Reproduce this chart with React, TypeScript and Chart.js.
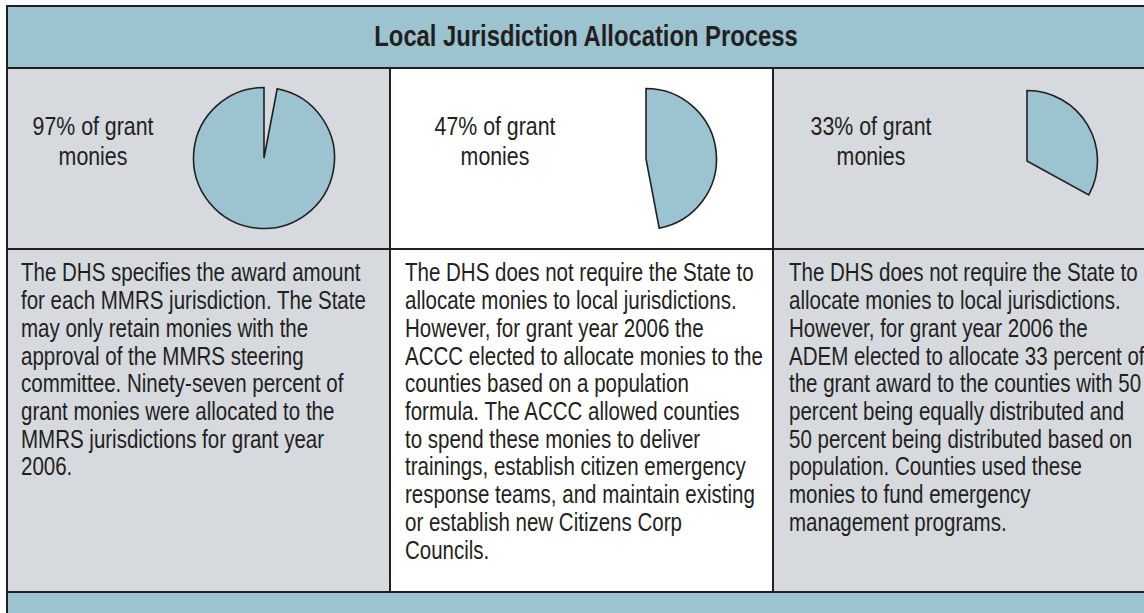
import React, { useEffect, useRef } from "react";
import { Chart, registerables } from "chart.js";

Chart.register(...registerables);

// ---------- data ----------
const title = "Local Jurisdiction Allocation Process";
const sliceNames = ["Allocated to local jurisdictions", "Not allocated"];
const allocatedShare = [97, 47, 33];
const retainedShare = [3, 53, 67];
const pieLabelLines = [
  ["97% of grant", "monies"],
  ["47% of grant", "monies"],
  ["33% of grant", "monies"],
];
const col1Lines = [
  "The DHS specifies the award amount",
  "for each MMRS jurisdiction. The State",
  "may only retain monies with the",
  "approval of the MMRS steering",
  "committee. Ninety-seven percent of",
  "grant monies were allocated to the",
  "MMRS jurisdictions for grant year",
  "2006.",
];
const col2Lines = [
  "The DHS does not require the State to",
  "allocate monies to local jurisdictions.",
  "However, for grant year 2006 the",
  "ACCC elected to allocate monies to the",
  "counties based on a population",
  "formula. The ACCC allowed counties",
  "to spend these monies to deliver",
  "trainings, establish citizen emergency",
  "response teams, and maintain existing",
  "or establish new Citizens Corp",
  "Councils.",
];
const col3Lines = [
  "The DHS does not require the State to",
  "allocate monies to local jurisdictions.",
  "However, for grant year 2006 the",
  "ADEM elected to allocate 33 percent of",
  "the grant award to the counties with 50",
  "percent being equally distributed and",
  "50 percent being distributed based on",
  "population. Counties used these",
  "monies to fund emergency",
  "management programs.",
];
const bodyColumns = [col1Lines, col2Lines, col3Lines];

// ---------- style / layout ----------
const TEAL = "#9bc3d0";
const GRAY = "#d6d9de";
const INK = "#231f20";
const FONT = '"Liberation Sans", Arial, sans-serif';
const NARROW = 0.82; // emulate a narrow face by horizontal scaling

const colX = [6, 389, 772]; // column left line positions
const colBg = [GRAY, "#ffffff", GRAY];
const bodyTextX = [21, 405, 789];
const labelCenterX = [93, 494.5, 870.5];
const pieLayout = [
  { cx: 264, cy: 158, gapFirst: true },
  { cx: 646, cy: 159, gapFirst: false },
  { cx: 1027, cy: 161, gapFirst: false },
];
const PIE_R = 70.5;
const PIE_BOX = 160;

function Pie({ index }: { index: number }) {
  const ref = useRef<HTMLCanvasElement | null>(null);
  useEffect(() => {
    if (!ref.current) return;
    const lay = pieLayout[index];
    const a = allocatedShare[index];
    const r = retainedShare[index];
    const transparent = "rgba(0,0,0,0)";
    const data = lay.gapFirst ? [r, a] : [a, r];
    const labels = lay.gapFirst ? [sliceNames[1], sliceNames[0]] : sliceNames;
    const bg = lay.gapFirst ? [transparent, TEAL] : [TEAL, transparent];
    const bc = lay.gapFirst ? [transparent, INK] : [INK, transparent];
    const chart = new Chart(ref.current, {
      type: "pie",
      data: {
        labels,
        datasets: [
          {
            data,
            backgroundColor: bg,
            borderColor: bc,
            borderWidth: 1.6,
            borderJoinStyle: "miter",
          } as any,
        ],
      },
      options: {
        responsive: false,
        animation: false,
        radius: PIE_R,
        layout: { padding: 0 },
        plugins: {
          legend: { display: false },
          tooltip: { enabled: false },
        },
        events: [],
      } as any,
    });
    return () => chart.destroy();
  }, [index]);
  const lay = pieLayout[index];
  return (
    <canvas
      ref={ref}
      width={PIE_BOX}
      height={PIE_BOX}
      style={{
        position: "absolute",
        left: lay.cx - PIE_BOX / 2,
        top: lay.cy - PIE_BOX / 2,
        width: PIE_BOX,
        height: PIE_BOX,
        display: "block",
      }}
    />
  );
}

function Rect(props: { l: number; t: number; w: number; h: number; c: string }) {
  return (
    <div
      style={{
        position: "absolute",
        left: props.l,
        top: props.t,
        width: props.w,
        height: props.h,
        background: props.c,
      }}
    />
  );
}

export default function App() {
  const W = 1144;
  const H = 613;
  const rowTop1 = 69;
  const rowLine1 = 248;
  const rowTop2 = 250;
  const rowLine2 = 591;
  const BODY_F = 25;
  const BODY_L = 27.7;
  const firstBaseline = 282;
  const bodyTop = firstBaseline - (BODY_L / 2 + 0.3465 * BODY_F);
  const LAB_F = 26;
  const LAB_L = 30;
  const labTop = 135 - (LAB_L / 2 + 0.3465 * LAB_F);
  const TIT_F = 29;
  const TIT_L = 34;
  const titTop = 45.7 - (TIT_L / 2 + 0.3465 * TIT_F);

  return (
    <div
      style={{
        position: "absolute",
        left: 0,
        top: 0,
        width: W,
        height: H,
        overflow: "hidden",
        background: "#ffffff",
        fontFamily: FONT,
        color: INK,
      }}
    >
      {/* header */}
      <Rect l={6} t={5} w={W - 6} h={64} c={TEAL} />
      {/* cells */}
      {colX.map((x, i) => {
        const right = i < 2 ? colX[i + 1] : W;
        return (
          <React.Fragment key={"c" + i}>
            <Rect l={x} t={rowTop1} w={right - x} h={rowLine1 - rowTop1} c={colBg[i]} />
            <Rect l={x} t={rowTop2} w={right - x} h={rowLine2 - rowTop2} c={colBg[i]} />
          </React.Fragment>
        );
      })}
      {/* bottom band */}
      <Rect l={6} t={rowLine2} w={W - 6} h={H - rowLine2} c={TEAL} />
      {/* lines */}
      <Rect l={6} t={5} w={W - 6} h={2} c={INK} />
      <Rect l={6} t={67} w={W - 6} h={2} c={INK} />
      <Rect l={6} t={rowLine1} w={W - 6} h={2} c={INK} />
      <Rect l={6} t={rowLine2} w={W - 6} h={2} c={INK} />
      <Rect l={6} t={5} w={2} h={H - 5} c={INK} />
      <Rect l={colX[1]} t={67} w={2} h={rowLine2 - 67 + 2} c={INK} />
      <Rect l={colX[2]} t={67} w={2} h={rowLine2 - 67 + 2} c={INK} />

      {/* title */}
      <div
        style={{
          position: "absolute",
          left: 586 - 300,
          top: titTop,
          width: 600,
          textAlign: "center",
          fontSize: TIT_F,
          lineHeight: TIT_L + "px",
          fontWeight: "bold",
          whiteSpace: "nowrap",
          transform: `scaleX(${NARROW})`,
          transformOrigin: "50% 50%",
        }}
      >
        {title}
      </div>

      {/* pie labels */}
      {pieLabelLines.map((lines, i) => (
        <div
          key={"lab" + i}
          style={{
            position: "absolute",
            left: labelCenterX[i] - 100,
            top: labTop,
            width: 200,
            textAlign: "center",
            fontSize: LAB_F,
            lineHeight: LAB_L + "px",
            whiteSpace: "nowrap",
            transform: `scaleX(${NARROW})`,
            transformOrigin: "50% 50%",
          }}
        >
          {lines.map((ln, j) => (
            <div key={j}>{ln}</div>
          ))}
        </div>
      ))}

      {/* pies */}
      {pieLayout.map((_, i) => (
        <Pie key={"pie" + i} index={i} />
      ))}

      {/* body text */}
      {bodyColumns.map((lines, i) => (
        <div
          key={"body" + i}
          style={{
            position: "absolute",
            left: bodyTextX[i],
            top: bodyTop,
            fontSize: BODY_F,
            lineHeight: BODY_L + "px",
            whiteSpace: "nowrap",
            transform: `scaleX(${NARROW})`,
            transformOrigin: "0 0",
          }}
        >
          {lines.map((ln, j) => (
            <div key={j}>{ln}</div>
          ))}
        </div>
      ))}
    </div>
  );
}
